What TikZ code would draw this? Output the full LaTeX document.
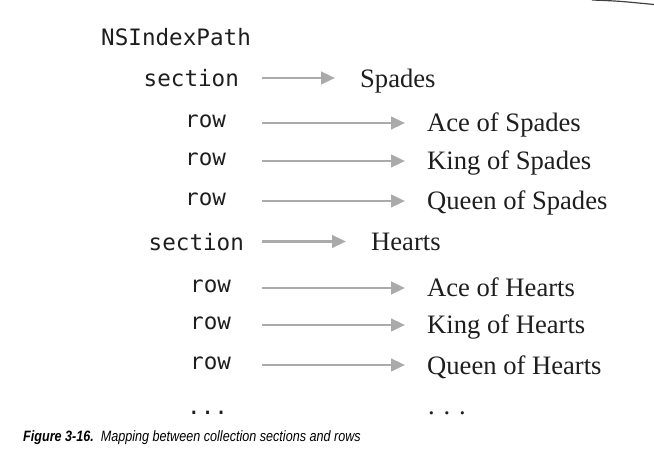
\documentclass[tikz,border=0pt]{standalone}
\usepackage{fontspec}
\setmainfont{Liberation Serif}
\setmonofont{DejaVu Sans Mono}
\newfontfamily\capfont[FakeStretch=0.84]{Liberation Sans}
\usetikzlibrary{arrows.meta}
\definecolor{arrowgray}{RGB}{170,170,170}
\definecolor{inkgray}{RGB}{30,30,30}

\begin{document}
\begin{tikzpicture}[x=1pt,y=-1pt,
  key/.style={anchor=base west,inner sep=0,text=inkgray,font=\fontsize{22.6}{24}\ttfamily},
  card/.style={anchor=base west,inner sep=0,text=inkgray,font=\fontsize{26.6}{28}\rmfamily},
  maparrow/.style={draw=arrowgray,line width=2.7pt,-{Triangle[length=14pt,width=12.5pt]}}]

  \useasboundingbox (0,0) rectangle (654,457);

  %page edge
  \draw[line width=1.2pt,black!75] (592,0) .. controls (618,1) .. (654,4.5);

  %index path
  \node[key] (path) at (101,46) {NSIndexPath};

  %sections
  \foreach \x/\y/\tx/\num/\name in {143.5/78/360/Spades/spades, 148.5/241.5/371/Hearts/hearts}{
       \node[key] (s\name) at (\x,\y+9) {section};
       \node[card] (\name) at (\tx,\y+9.5) {\num};
       \coordinate (a\name) at (262,\y);
       \draw[maparrow,shorten >=25pt] (a\name) -- (a\name -| \name.west);
  }

  %rows
  \foreach \x/\y/\num/\name in {185/123/Ace of Spades/as, 185/161/King of Spades/ks, 185/201/Queen of Spades/qs,
                               190/288/Ace of Hearts/ah, 190/325/King of Hearts/kh, 190/365/Queen of Hearts/qh}{
       \node[key] (r\name) at (\x,\y+5) {row};
       \node[card] (\name) at (427,\y+9) {\num};
       \coordinate (a\name) at (262,\y);
       \draw[maparrow,shorten >=22pt] (a\name) -- (a\name -| \name.west);
  }

  %more
  \node[key] (rmore) at (187,414) {...};
  \node[card] (more) at (428,414) {. . .};

  %caption
  \node[anchor=base west,inner sep=0,font=\capfont\fontsize{15}{17}\selectfont] (caption) at (23,441)
       {\textbf{\textit{Figure 3-16.}}~~\textit{Mapping between collection sections and rows}};

\end{tikzpicture}
\end{document}
